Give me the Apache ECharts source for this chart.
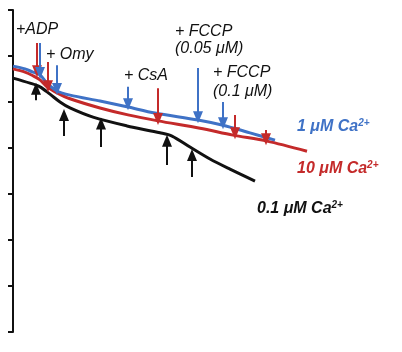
<!DOCTYPE html>
<html>
<head>
<meta charset="utf-8">
<script src="https://cdn.jsdelivr.net/npm/echarts@6/dist/echarts.min.js"></script>
<style>
  html, body { margin: 0; padding: 0; background: #fff; }
  #chart { width: 402px; height: 352px; }
</style>
</head>
<body>
<div id="chart"></div>
<script>
// traces: [time, level]
const blueTrace = [[0, 5.78], [1.2, 5.72], [2.0, 5.65], [2.7, 5.59], [3.4, 5.41], [4.4, 5.24], [5.7, 5.15],
  [8.7, 5.02], [11.5, 4.89], [14.2, 4.76], [18.5, 4.61], [20.9, 4.50], [23.7, 4.33], [26.2, 4.17]];
const redTrace = [[0, 5.72], [1.2, 5.65], [2.0, 5.57], [2.7, 5.48], [3.4, 5.33], [4.4, 5.20], [5.7, 5.07],
  [8.7, 4.87], [11.5, 4.72], [14.5, 4.59], [18.7, 4.43], [22.0, 4.28], [25.4, 4.15], [29.4, 3.93]];
const blackTrace = [[0, 5.52], [1.7, 5.41], [2.7, 5.33], [3.7, 5.17], [4.7, 5.00], [5.7, 4.87], [8.0, 4.67],
  [11.4, 4.48], [14.7, 4.33], [15.9, 4.26], [17.7, 4.02], [19.7, 3.76], [21.7, 3.54], [24.2, 3.28]];

// additions: [time, arrow start, arrow tip]
const blueArrows = [[2.7, 6.28, 5.63], [4.4, 5.80, 5.28], [11.5, 5.33, 4.95], [18.5, 5.74, 4.67], [21.0, 5.00, 4.54]];
const redArrows = [[2.4, 6.28, 5.67], [3.5, 5.87, 5.34], [14.5, 5.30, 4.63], [22.2, 4.72, 4.32], [25.3, 4.39, 4.19]];
const blackArrows = [[2.3, 5.04, 5.29], [5.1, 4.26, 4.72], [8.8, 4.02, 4.53], [15.4, 3.63, 4.16], [17.9, 3.37, 3.85]];

const yTicks = [0, 1, 2, 3, 4, 5, 6, 7];
const additionLabels = ['+ADP', '+ Omy', '+ CsA', '+ FCCP', '(0.05 μM)', '+ FCCP', '(0.1 μM)'];
const seriesNames = ['1 μM Ca', '10 μM Ca', '0.1 μM Ca'];

const BLUE = '#3f72c6';
const RED = '#c42a2a';
const BLACK = '#111111';

function arrowLines(list) {
  return list.map(a => [
    { coord: [a[0], a[1]] },
    { coord: [a[0], a[2]] }
  ]);
}

function traceSeries(name, data, arrows, color, z) {
  return {
    name: name,
    type: 'line',
    data: data,
    smooth: 0.3,
    showSymbol: false,
    z: z,
    lineStyle: { color: color, width: 3 },
    itemStyle: { color: color },
    markLine: {
      silent: true,
      symbol: ['none', 'triangle'],
      symbolSize: [10, 12],
      label: { show: false },
      itemStyle: { color: color },
      lineStyle: { color: color, width: 2, type: 'solid' },
      animation: false,
      data: arrowLines(arrows)
    }
  };
}

const chart = echarts.init(document.getElementById('chart'));

const txtFont = 'italic 16px "Liberation Sans", Arial, sans-serif';
function note(text, x, y) {
  return { type: 'text', left: x, top: y, style: { text: text, font: txtFont, fill: BLACK } };
}
function caLabel(text, x, y, color) {
  return {
    type: 'text', left: x, top: y,
    style: {
      text: '{b|' + text + '}{s|2+}',
      rich: {
        b: { font: 'italic bold 16px "Liberation Sans", Arial, sans-serif', fill: color, lineHeight: 18, verticalAlign: 'bottom' },
        s: { font: 'italic bold 10px "Liberation Sans", Arial, sans-serif', fill: color, lineHeight: 18, verticalAlign: 'top', padding: [1, 0, 0, 0] }
      }
    }
  };
}

chart.setOption({
  animation: false,
  grid: { left: 13, right: 9, top: 10, bottom: 20 },
  xAxis: {
    type: 'value', min: 0, max: 38,
    show: false
  },
  yAxis: {
    type: 'value', min: yTicks[0], max: yTicks[yTicks.length - 1], interval: 1,
    axisLine: { show: true, lineStyle: { color: BLACK, width: 2 } },
    axisTick: { show: true, length: 5, lineStyle: { color: BLACK, width: 2 } },
    axisLabel: { show: false },
    splitLine: { show: false }
  },
  series: [
    traceSeries(seriesNames[2], blackTrace, blackArrows, BLACK, 2),
    traceSeries(seriesNames[1], redTrace, redArrows, RED, 3),
    traceSeries(seriesNames[0], blueTrace, blueArrows, BLUE, 4)
  ],
  graphic: [
    note(additionLabels[0], 16, 22),
    note(additionLabels[1], 46, 47),
    note(additionLabels[2], 124, 68),
    note(additionLabels[3], 175, 24),
    note(additionLabels[4], 175, 41),
    note(additionLabels[5], 213, 65),
    note(additionLabels[6], 213, 84),
    caLabel(seriesNames[0], 297, 117, BLUE),
    caLabel(seriesNames[1], 297, 159, RED),
    caLabel(seriesNames[2], 257, 199, BLACK)
  ]
});
</script>
</body>
</html>
